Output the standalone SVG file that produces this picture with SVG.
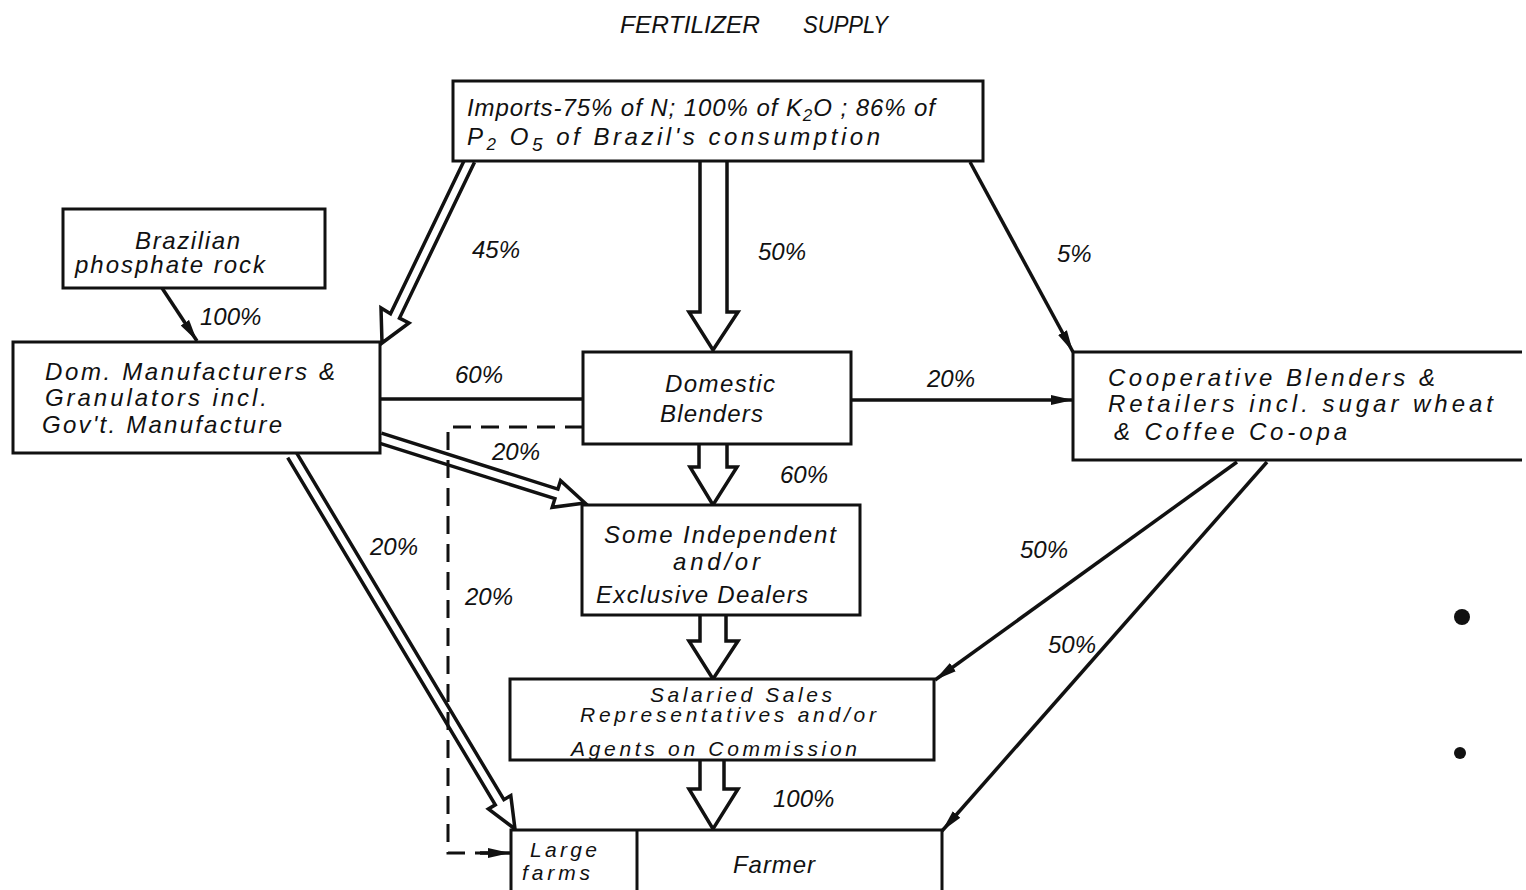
<svg xmlns="http://www.w3.org/2000/svg" width="1526" height="890" viewBox="0 0 1526 890">
<style>
.t{font-family:"Liberation Sans",Arial,sans-serif;font-style:italic;font-size:24px;fill:#111}
.s{font-size:21px}
.box{fill:#fff;stroke:#111;stroke-width:3}
.ln{fill:none;stroke:#111;stroke-width:3.5}
.ha{fill:#fff;stroke:#111;stroke-width:3.5;stroke-linejoin:miter}
.dash{fill:none;stroke:#111;stroke-width:3;stroke-dasharray:18 10}
</style>
<defs>
<marker id="ah" markerUnits="userSpaceOnUse" viewBox="0 -6 24 12" refX="22" refY="0" markerWidth="24" markerHeight="12" orient="auto">
<path d="M0,-5 L22,0 L0,5 z" fill="#111"/>
</marker>
</defs>
<rect width="1526" height="890" fill="#fff"/>
<text class="t" y="33"><tspan x="620" textLength="140" lengthAdjust="spacingAndGlyphs">FERTILIZER</tspan><tspan x="803" textLength="85" lengthAdjust="spacingAndGlyphs">SUPPLY</tspan></text>

<g id="connectors">
<path class="ha" d="M474.5,162.2 L399.5,318.1 L409,323 L382,343 L381,308 L390.5,313.8 L465.5,157.8"/>
<path class="ha" d="M700,160 L700,312 L689,312 L713,350 L738,312 L727,312 L727,160"/>
<path class="ha" d="M699,444 L699,467 L690,467 L713,505 L737,467 L727,467 L727,444"/>
<path class="ha" d="M700,615 L700,641 L689,641 L713,679 L738,641 L726,641 L726,615"/>
<path class="ha" d="M700,760 L700,789 L689,789 L713,829 L738,789 L724,789 L724,760"/>
<path class="ha" d="M378.5,442.8 L554.9,498.7 L552.2,507.3 L585,503 L560.6,480.6 L557.9,489.1 L381.5,433.2"/>
<path class="ha" d="M287.7,457.6 L495.3,804.8 L488.4,808.9 L515,829 L510.8,795.6 L503.9,799.7 L296.3,452.4"/>
<line class="ln" x1="162" y1="288" x2="197" y2="341" marker-end="url(#ah)"/>
<line class="ln" x1="970" y1="162" x2="1073" y2="352" marker-end="url(#ah)"/>
<line class="ln" x1="380" y1="399" x2="583" y2="399"/>
<line class="ln" x1="851" y1="400" x2="1073" y2="400" marker-end="url(#ah)"/>
<line class="ln" x1="1237" y1="462" x2="935" y2="680" marker-end="url(#ah)"/>
<line class="ln" x1="1267" y1="462" x2="942" y2="831" marker-end="url(#ah)"/>
<polyline class="dash" points="583,427 448,427 448,853 490,853"/>
<line class="ln" x1="480" y1="853" x2="510" y2="853" stroke-width="3" marker-end="url(#ah)"/>
</g>

<g id="labels">
<text class="t" x="472" y="258">45%</text>
<text class="t" x="758" y="260">50%</text>
<text class="t" x="1057" y="262">5%</text>
<text class="t" x="200" y="325">100%</text>
<text class="t" x="455" y="383">60%</text>
<text class="t" x="927" y="387">20%</text>
<text class="t" x="492" y="460">20%</text>
<text class="t" x="780" y="483">60%</text>
<text class="t" x="370" y="555">20%</text>
<text class="t" x="465" y="605">20%</text>
<text class="t" x="1020" y="558">50%</text>
<text class="t" x="1048" y="653">50%</text>
<text class="t" x="773" y="807">100%</text>
</g>

<g id="imports">
<rect class="box" x="453" y="81" width="530" height="80"/>
<text class="t" x="467" y="116" textLength="468" lengthAdjust="spacing">Imports-75% of N; 100% of K<tspan font-size="17" dy="5">2</tspan><tspan dy="-5">O ; 86% of</tspan></text>
<text class="t" x="467" y="145" textLength="413" lengthAdjust="spacing">P<tspan font-size="17" dy="5">2</tspan><tspan dy="-5"> O</tspan><tspan font-size="19" dy="6">5</tspan><tspan dy="-6">  of  Brazil's   consumption</tspan></text>
</g>

<g id="brazilian">
<rect class="box" x="63" y="209" width="262" height="79"/>
<text class="t" x="135" y="249" textLength="105" lengthAdjust="spacing">Brazilian</text>
<text class="t" x="75" y="273" textLength="190" lengthAdjust="spacing">phosphate rock</text>
</g>

<g id="dom-manufacturers">
<rect class="box" x="13" y="342" width="367" height="111"/>
<text class="t" x="45" y="380" textLength="290" lengthAdjust="spacing">Dom. Manufacturers &amp;</text>
<text class="t" x="45" y="406" textLength="222" lengthAdjust="spacing">Granulators incl.</text>
<text class="t" x="42" y="433" textLength="240" lengthAdjust="spacing">Gov't. Manufacture</text>
</g>

<g id="domestic-blenders">
<rect class="box" x="583" y="352" width="268" height="92"/>
<text class="t" x="665" y="392" textLength="110" lengthAdjust="spacing">Domestic</text>
<text class="t" x="660" y="422" textLength="103" lengthAdjust="spacing">Blenders</text>
</g>

<g id="cooperative">
<path class="box" d="M1522,352 L1073,352 L1073,460 L1522,460"/>
<text class="t" x="1108" y="386" textLength="327" lengthAdjust="spacing">Cooperative Blenders &amp;</text>
<text class="t" x="1108" y="412" textLength="385" lengthAdjust="spacing">Retailers incl. sugar wheat</text>
<text class="t" x="1114" y="440" textLength="233" lengthAdjust="spacing">&amp; Coffee Co-opa</text>
</g>

<g id="independent-dealers">
<rect class="box" x="582" y="505" width="278" height="110"/>
<text class="t" x="604" y="543" textLength="232" lengthAdjust="spacing">Some Independent</text>
<text class="t" x="673" y="570" textLength="87" lengthAdjust="spacing">and/or</text>
<text class="t" x="596" y="603" textLength="212" lengthAdjust="spacing">Exclusive Dealers</text>
</g>

<g id="salaried-sales">
<rect class="box" x="510" y="679" width="424" height="81"/>
<text class="t s" x="650" y="702" textLength="182" lengthAdjust="spacing">Salaried Sales</text>
<text class="t s" x="580" y="722" textLength="296" lengthAdjust="spacing">Representatives and/or</text>
<text class="t s" x="571" y="756" textLength="286" lengthAdjust="spacing">Agents on Commission</text>
</g>

<g id="farmer">
<rect class="box" x="511" y="830" width="431" height="62"/>
<line x1="637" y1="830" x2="637" y2="890" stroke="#111" stroke-width="3"/>
<text class="t s" x="530" y="857" textLength="67" lengthAdjust="spacing">Large</text>
<text class="t s" x="522" y="880" textLength="68" lengthAdjust="spacing">farms</text>
<text class="t" x="733" y="873" textLength="82" lengthAdjust="spacing">Farmer</text>
</g>

<circle cx="1462" cy="617" r="8" fill="#111"/>
<circle cx="1460" cy="753" r="6" fill="#111"/>
</svg>
